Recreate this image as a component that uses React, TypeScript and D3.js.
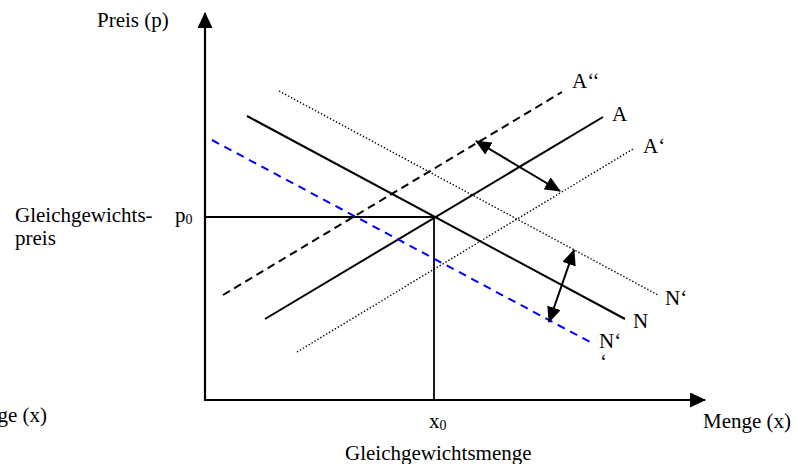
import React from "react";
import * as d3 from "d3";

// quantity (x) and price (p) in chart units, origin at the axes' crossing
const equilibrium = { q: 229, p: 183 };

const curveNames = ["N", "A", "A''", "A'", "N'", "N''"];
const curveQ = [
  [42, 420],
  [60, 398],
  [18, 357],
  [92, 428],
  [74, 453],
  [7, 385],
];
const curveP = [
  [284, 81],
  [81, 283],
  [105, 308],
  [48, 251],
  [309, 105],
  [260, 58],
];

const shiftArrowQ = [
  [271, 355],
  [369, 344],
];
const shiftArrowP = [
  [259, 209],
  [150, 78],
];

const curveLabels = ["A‘‘", "A", "A‘", "N‘", "N", "N‘"];
const curveLabelQ = [367, 407, 438, 460, 428, 394];
const curveLabelP = [312, 279, 247, 95, 72, 52];

const W = 797;
const H = 464;

const x = d3.scaleLinear().domain([0, 500]).range([205, 705]);
const y = d3.scaleLinear().domain([0, 388]).range([400, 12]);

const styles: Record<string, { stroke: string; width: number; dash?: string }> = {
  N: { stroke: "#000", width: 2 },
  A: { stroke: "#000", width: 2 },
  "A''": { stroke: "#000", width: 2, dash: "8,5" },
  "A'": { stroke: "#000", width: 1.4, dash: "1.4,2" },
  "N'": { stroke: "#000", width: 1.4, dash: "1.4,2" },
  "N''": { stroke: "#0000ff", width: 2, dash: "8,6" },
};

const line = d3
  .line<[number, number]>()
  .x((d) => x(d[0]))
  .y((d) => y(d[1]));

export default function App() {
  const font = "'Liberation Serif', 'Times New Roman', serif";
  return (
    <svg
      width={W}
      height={H}
      style={{ position: "absolute", left: 0, top: 0, background: "#fff" }}
      fontFamily={font}
      fontSize={21}
    >
      <defs>
        <marker id="head" viewBox="0 0 16 14" refX="15" refY="7" markerWidth="16" markerHeight="14"
          markerUnits="userSpaceOnUse" orient="auto-start-reverse">
          <path d="M0,0 L16,7 L0,14 Z" fill="#000" />
        </marker>
        <marker id="axisHead" viewBox="0 0 16 15" refX="15" refY="7.5" markerWidth="16" markerHeight="15"
          markerUnits="userSpaceOnUse" orient="auto">
          <path d="M0,0 L16,7.5 L0,15 Z" fill="#000" />
        </marker>
      </defs>

      {/* axes */}
      <line x1={x(0)} y1={y(0) + 1} x2={x(0)} y2={y(388) + 1} stroke="#000" strokeWidth={2.2} markerEnd="url(#axisHead)" />
      <line x1={x(0) - 1} y1={y(0)} x2={x(500)} y2={y(0)} stroke="#000" strokeWidth={2.2} markerEnd="url(#axisHead)" />

      {/* equilibrium guides */}
      <line x1={x(0)} y1={y(equilibrium.p)} x2={x(equilibrium.q)} y2={y(equilibrium.p)} stroke="#000" strokeWidth={1.8} />
      <line x1={x(equilibrium.q)} y1={y(equilibrium.p)} x2={x(equilibrium.q)} y2={y(0)} stroke="#000" strokeWidth={1.8} />

      {/* supply & demand curves */}
      {curveNames.map((name, i) => {
        const s = styles[name];
        const pts: [number, number][] = [
          [curveQ[i][0], curveP[i][0]],
          [curveQ[i][1], curveP[i][1]],
        ];
        return (
          <path key={name} d={line(pts) || ""} fill="none" stroke={s.stroke}
            strokeWidth={s.width} strokeDasharray={s.dash} />
        );
      })}

      {/* shift arrows */}
      {shiftArrowQ.map((q, i) => (
        <line key={i} x1={x(q[0])} y1={y(shiftArrowP[i][0])} x2={x(q[1])} y2={y(shiftArrowP[i][1])}
          stroke="#000" strokeWidth={2} markerStart="url(#head)" markerEnd="url(#head)" />
      ))}

      {/* curve labels */}
      {curveLabels.map((t, i) => (
        <text key={i} x={x(curveLabelQ[i])} y={y(curveLabelP[i])}>{t}</text>
      ))}
      <text x={600} y={369}>‘</text>

      {/* axis labels */}
      <text x={97} y={27}>Preis (p)</text>
      <text x={703} y={428}>Menge (x)</text>
      <text x={47} y={422} textAnchor="end">Menge (x)</text>
      <text x={15} y={222}>Gleichgewichts-</text>
      <text x={15} y={245}>preis</text>
      <text x={175} y={222}>p<tspan fontSize={14} dy={2}>0</tspan></text>
      <text x={x(equilibrium.q) - 5} y={428}>x<tspan fontSize={14} dy={2}>0</tspan></text>
      <text x={345} y={460}>Gleichgewichtsmenge</text>
    </svg>
  );
}
